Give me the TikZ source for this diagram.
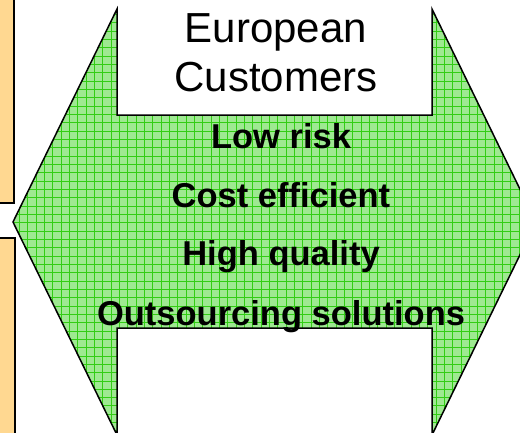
\documentclass[tikz,border=0pt]{standalone}
\usepackage{fontspec}
\setmainfont{Liberation Sans}
\definecolor{arrowgreen}{RGB}{158,233,145}
\definecolor{gridgreen}{RGB}{50,205,20}
\definecolor{boxorange}{RGB}{255,216,145}
\tikzset{
  label/.style={font=\fontsize{42}{49}\selectfont, anchor=base},
  point/.style={font=\fontsize{34.5}{40}\selectfont\bfseries, anchor=base},
  gridline/.style={gridgreen, line width=0.7pt}
}
\begin{document}
\begin{tikzpicture}[x=1pt,y=-1pt]
\def\xL{117};
\def\xR{432};
\def\yT{115};
\def\yB{328};
\def\arrowpath{(13,222) -- (\xL,9) -- (\xL,\yT) -- (\xR,\yT) -- (\xR,9) -- (536,222)
  -- (\xR,435) -- (\xR,\yB) -- (\xL,\yB) -- (\xL,435) -- cycle}
\useasboundingbox (0,0) rectangle (520,432);
\clip (0,0) rectangle (520,432);
% boxes on the left edge
\draw[line width=1.5pt, fill=boxorange] (-20,-20) rectangle (14,203);
\draw[line width=1.5pt, fill=boxorange] (-20,238) rectangle (15,460);
% double arrow with grid fill
\fill[arrowgreen] \arrowpath;
\begin{scope}
  \clip \arrowpath;
  \foreach \i in {0,...,63} \draw[gridline] (2.7+8.33*\i,-10) -- ++(0,460);
  \foreach \j in {0,...,53} \draw[gridline] (-10,6+8.33*\j-8.33) -- ++(560,0);
\end{scope}
\draw[line width=1.5pt, line join=miter] \arrowpath;
\node[label] (europe) at (276,42) {European};
\node[label] (customers) at (276,91) {Customers};
\foreach \txt/\yb/\nm in {Low risk/148/risk, Cost efficient/207/cost,
  High quality/265/quality, Outsourcing solutions/325/solutions}
  \node[point] (\nm) at (281,\yb) {\txt};
\end{tikzpicture}
\end{document}
